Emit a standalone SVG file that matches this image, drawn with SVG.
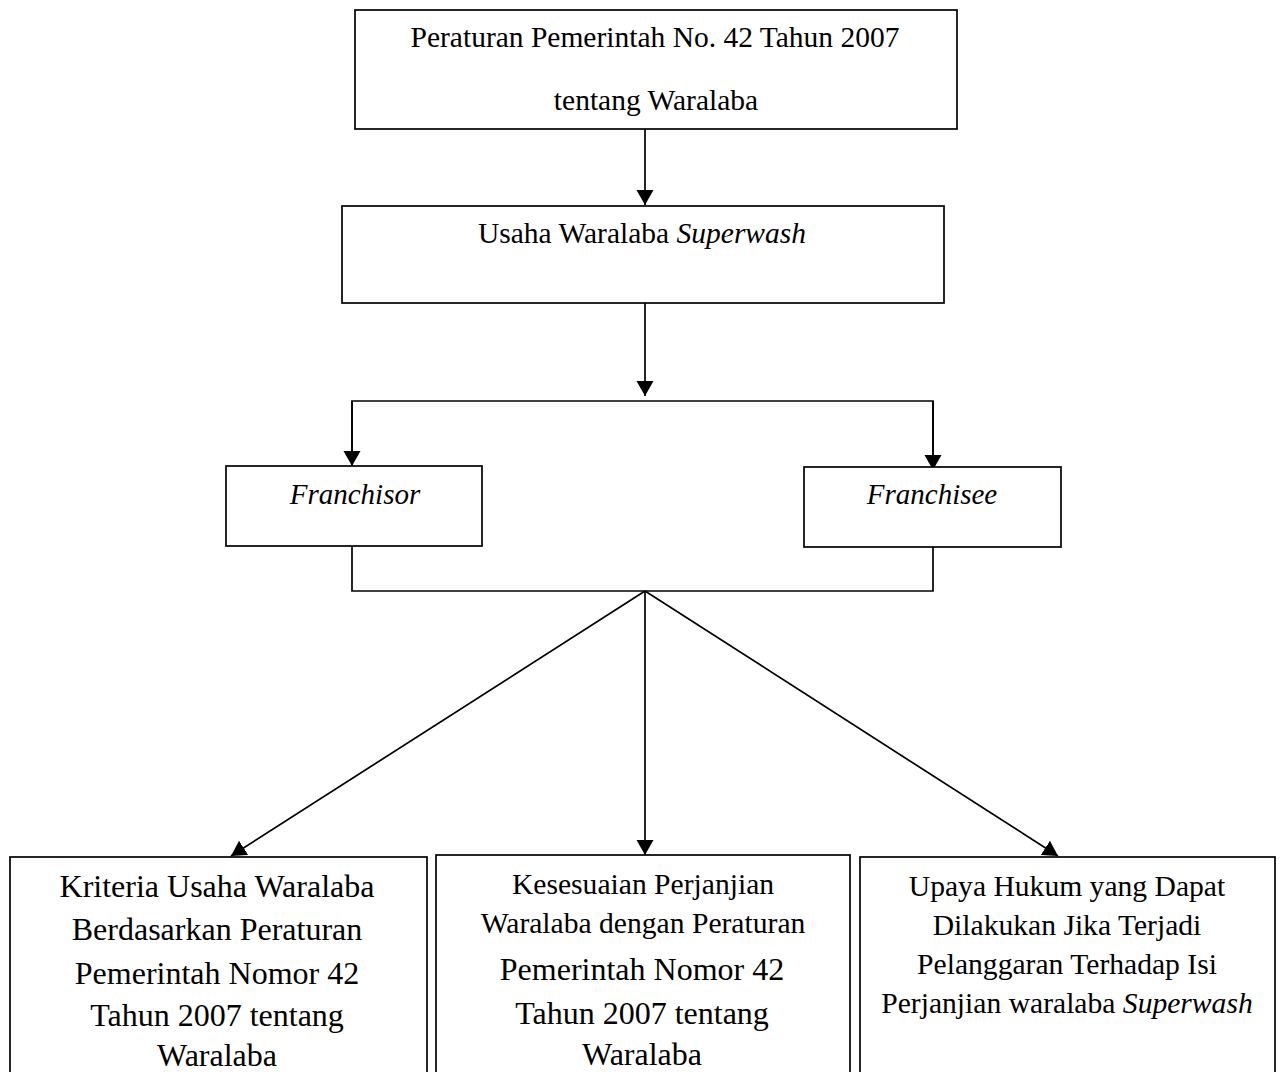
<svg xmlns="http://www.w3.org/2000/svg" width="1281" height="1072" viewBox="0 0 1281 1072">
<style>
.box{fill:#fff;stroke:#000;stroke-width:1.7}
.ln{fill:none;stroke:#000;stroke-width:1.7}
text{font-family:"Liberation Serif","Times New Roman",serif;fill:#000;text-anchor:middle}
.t29{font-size:29.5px}
.tf{font-size:29px}
.t32{font-size:32px}
.t30{font-size:29.6px}
.i{font-style:italic}
</style>
<defs>
<marker id="ah" markerUnits="userSpaceOnUse" markerWidth="16" markerHeight="18" refX="15" refY="8.5" orient="auto">
<path d="M0,0 L15,8.5 L0,17 Z" fill="#000"/>
</marker>
</defs>
<rect width="1281" height="1072" fill="#fff"/>
<g id="connectors">
<line class="ln" x1="645" y1="129" x2="645" y2="205" marker-end="url(#ah)"/>
<line class="ln" x1="645" y1="303" x2="645" y2="396" marker-end="url(#ah)"/>
<polyline class="ln" points="352,466 352,401 933,401 933,470"/>
<line class="ln" x1="352" y1="401" x2="352" y2="466" marker-end="url(#ah)"/>
<line class="ln" x1="933" y1="401" x2="933" y2="470" marker-end="url(#ah)"/>
<polyline class="ln" points="352,546 352,591 933,591 933,547"/>
<line class="ln" x1="645" y1="591" x2="231" y2="856" marker-end="url(#ah)"/>
<line class="ln" x1="645" y1="591" x2="645" y2="855" marker-end="url(#ah)"/>
<line class="ln" x1="645" y1="591" x2="1058" y2="856" marker-end="url(#ah)"/>
</g>
<g id="n1">
<rect class="box" x="355" y="10" width="602" height="119"/>
<text class="t29" x="655" y="47">Peraturan Pemerintah No. 42 Tahun 2007</text>
<text class="t29" x="656" y="110">tentang Waralaba</text>
</g>
<g id="n2">
<rect class="box" x="342" y="206" width="602" height="97"/>
<text class="t29" x="642" y="243">Usaha Waralaba <tspan class="i">Superwash</tspan></text>
</g>
<g id="n3">
<rect class="box" x="226" y="466" width="256" height="80"/>
<text class="tf i" x="355" y="504">Franchisor</text>
</g>
<g id="n4">
<rect class="box" x="804" y="467" width="257" height="80"/>
<text class="tf i" x="932" y="504">Franchisee</text>
</g>
<g id="n5">
<rect class="box" x="10" y="857" width="417" height="220"/>
<text class="t32" x="217" y="897">Kriteria Usaha Waralaba</text>
<text class="t32" x="217" y="940">Berdasarkan Peraturan</text>
<text class="t32" x="217" y="984">Pemerintah Nomor 42</text>
<text class="t32" x="217" y="1026">Tahun 2007 tentang</text>
<text class="t32" x="217" y="1066">Waralaba</text>
</g>
<g id="n6">
<rect class="box" x="436" y="855" width="414" height="222"/>
<text class="t30" x="643" y="894">Kesesuaian Perjanjian</text>
<text class="t30" x="643" y="933">Waralaba dengan Peraturan</text>
<text class="t32" x="642" y="980">Pemerintah Nomor 42</text>
<text class="t32" x="642" y="1024">Tahun 2007 tentang</text>
<text class="t32" x="642" y="1065">Waralaba</text>
</g>
<g id="n7">
<rect class="box" x="860" y="857" width="415" height="220"/>
<text class="t30" x="1067" y="896">Upaya Hukum yang Dapat</text>
<text class="t30" x="1067" y="935">Dilakukan Jika Terjadi</text>
<text class="t30" x="1067" y="974">Pelanggaran Terhadap Isi</text>
<text class="t30" x="1067" y="1013">Perjanjian waralaba <tspan class="i">Superwash</tspan></text>
</g>
</svg>
